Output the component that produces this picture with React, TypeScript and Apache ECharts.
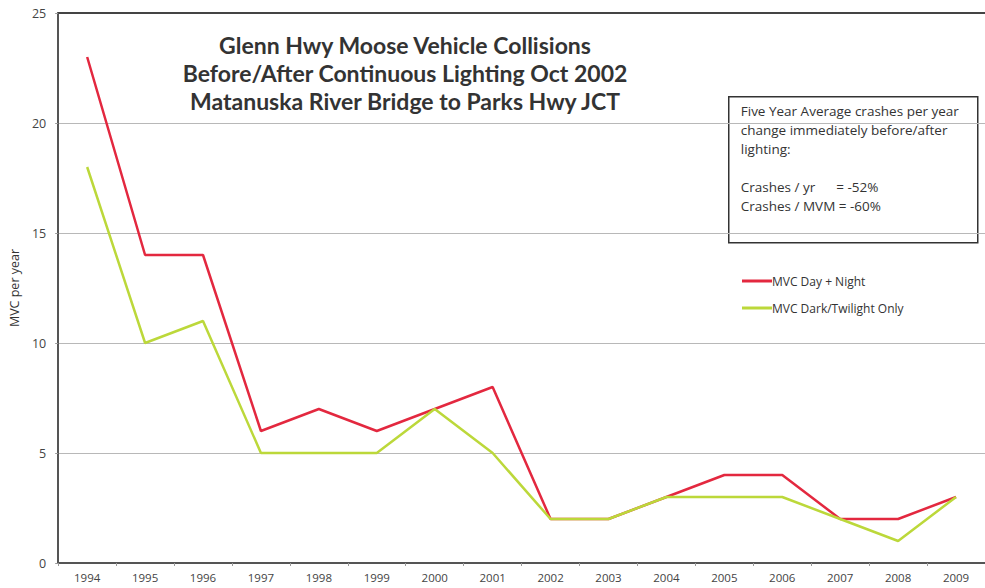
import React, { useEffect, useRef } from "react";
import * as echarts from "echarts";

const years = ["1994","1995","1996","1997","1998","1999","2000","2001","2002","2003","2004","2005","2006","2007","2008","2009"];
const dayNight = [23, 14, 14, 6, 7, 6, 7, 8, 2, 2, 3, 4, 4, 2, 2, 3];
const darkTwilight = [18, 10, 11, 5, 5, 5, 7, 5, 2, 2, 3, 3, 3, 2, 1, 3];
const titleLines = [
  "Glenn Hwy Moose Vehicle Collisions",
  "Before/After Continuous Lighting Oct 2002",
  "Matanuska River Bridge to Parks Hwy JCT",
];
const noteLines = [
  "Five Year Average crashes per year",
  "change immediately before/after",
  "lighting:",
  "",
  "Crashes / yr      = -52%",
  "Crashes / MVM = -60%",
];

const FONT = "'Open Sans', sans-serif";
const TFONT = "Lato, sans-serif";

export default function App() {
  const ref = useRef<HTMLDivElement>(null);
  useEffect(() => {
    if (!ref.current) return;
    const chart = echarts.init(ref.current, null, { renderer: "svg" });
    chart.setOption({
      animation: false,
      backgroundColor: "#ffffff",
      textStyle: { fontFamily: FONT },
      grid: { left: 54, top: 13, width: 938, height: 550, containLabel: false },
      xAxis: [
        {
          type: "category",
          data: years,
          boundaryGap: true,
          axisLine: { show: true, lineStyle: { color: "#555", width: 2 } },
          axisTick: { show: true, length: 3, lineStyle: { color: "#999" } },
          axisLabel: { color: "#444", fontSize: 11.5, margin: 8, fontFamily: FONT },
          splitLine: { show: false },
        },
        {
          type: "category",
          data: years,
          position: "top",
          axisLine: { show: true, lineStyle: { color: "#444", width: 2 } },
          axisTick: { show: false },
          axisLabel: { show: false },
        },
      ],
      yAxis: {
        type: "value",
        min: 0,
        max: 25,
        interval: 5,
        name: "MVC per year",
        nameLocation: "middle",
        nameGap: 36,
        nameRotate: 90,
        nameTextStyle: { color: "#333", fontSize: 12.5, fontFamily: FONT },
        axisLine: { show: true, lineStyle: { color: "#555", width: 2 } },
        axisTick: { show: true, length: 3, lineStyle: { color: "#999" } },
        axisLabel: { color: "#444", fontSize: 12.5, margin: 12, fontFamily: FONT },
        splitLine: { show: true, lineStyle: { color: "#b8b8b8", width: 1 } },
      },
      legend: {
        orient: "vertical",
        left: 737,
        top: 270,
        itemWidth: 30,
        itemHeight: 3,
        itemGap: 15,
        icon: "rect",
        textStyle: { color: "#333", fontSize: 12, fontFamily: FONT, padding: [0, 0, 0, -5] },
        data: ["MVC Day + Night", "MVC Dark/Twilight Only"],
      },
      series: [
        {
          name: "MVC Day + Night",
          type: "line",
          data: dayNight,
          showSymbol: false,
          symbol: "none",
          lineStyle: { color: "#e3283f", width: 2.5 },
          itemStyle: { color: "#e3283f" },
          z: 3,
        },
        {
          name: "MVC Dark/Twilight Only",
          type: "line",
          data: darkTwilight,
          showSymbol: false,
          symbol: "none",
          lineStyle: { color: "#bcd83a", width: 2.5 },
          itemStyle: { color: "#bcd83a" },
          z: 4,
        },
      ],
      graphic: [
        {
          type: "text",
          x: 405,
          y: 31,
          style: {
            text: titleLines.join("\n"),
            fill: "#333",
            font: `bold 23px ${TFONT}`,
            lineHeight: 28,
            align: "center",
          },
        },
        {
          type: "group",
          left: 728,
          top: 96,
          children: [
            {
              type: "rect",
              shape: { x: 0, y: 0, width: 249, height: 146 },
              style: { fill: "#fff", stroke: "#333", lineWidth: 1.5 },
            },
            {
              type: "text",
              x: 12,
              y: 5,
              style: {
                text: noteLines.join("\n"),
                fill: "#333",
                font: `13.5px ${FONT}`,
                lineHeight: 19,
              },
            },
          ],
        },
      ],
    });
    return () => chart.dispose();
  }, []);
  return <div ref={ref} style={{ width: 985, height: 588, position: "absolute", left: 0, top: 0 }} />;
}
